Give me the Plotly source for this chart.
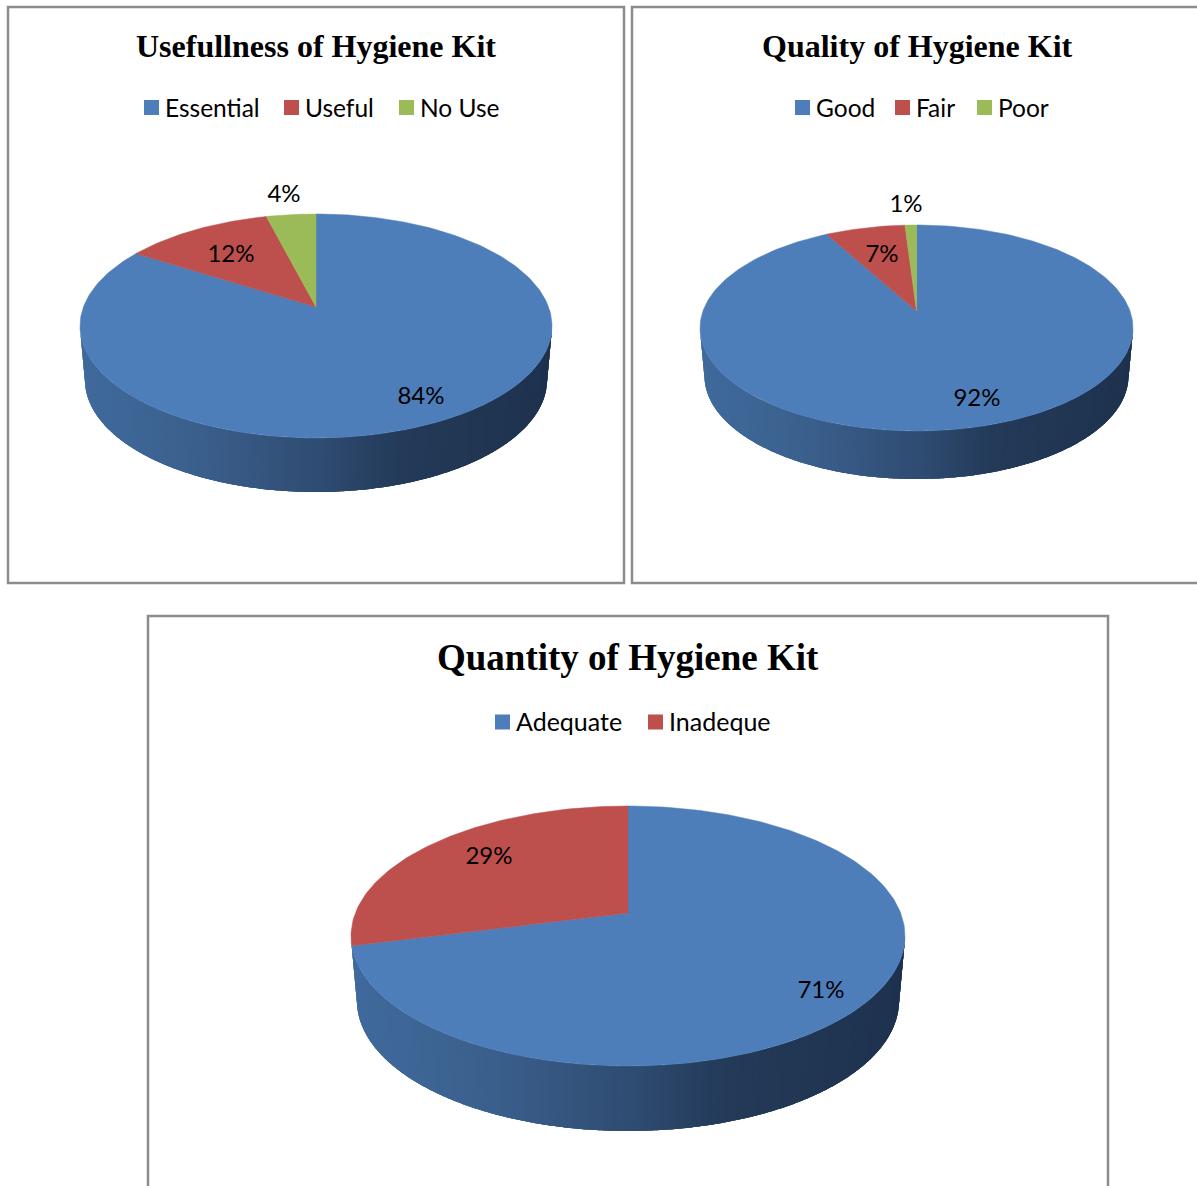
import math
import plotly.graph_objects as go

W, H = 1197, 1186

titles = ["Usefullness of Hygiene Kit", "Quality of Hygiene Kit", "Quantity of Hygiene Kit"]
categories_use = ["Essential", "Useful", "No Use"]
values_use = [84, 12, 4]
categories_qual = ["Good", "Fair", "Poor"]
values_qual = [92, 7, 1]
categories_qty = ["Adequate", "Inadeque"]
values_qty = [71, 29]

BLUE, RED, GREEN = "#4E7EBA", "#BD4F4C", "#9BBB59"
BORDER = "#8C8C8C"
WALL_STOPS = [(0, (64, 106, 156)), (.25, (58, 95, 140)), (.5, (47, 76, 114)),
              (.68, (35, 58, 88)), (1, (30, 50, 78))]

panels = [
    dict(title=titles[0], cats=categories_use, vals=values_use, box=(8, 7, 624, 583),
         cx=316, cy=326, rx=236, ry=112, apex=307, depth=54, rxb=231,
         tpos=(316, 46), tsize=32, key_y=107.5, key_x=[144, 284, 399], key_size=24.5,
         labels=[(421, 396), (231, 254), (284, 194)]),
    dict(title=titles[1], cats=categories_qual, vals=values_qual, box=(632, 7, 1240, 583),
         cx=916.5, cy=328, rx=216.5, ry=103, apex=311, depth=48, rxb=212,
         tpos=(917, 46), tsize=32, key_y=107.5, key_x=[795, 895, 977], key_size=24.5,
         labels=[(977, 398), (882, 254), (906, 204)]),
    dict(title=titles[2], cats=categories_qty, vals=values_qty, box=(148, 616, 1108, 1240),
         cx=628, cy=936, rx=277, ry=130, apex=913, depth=65, rxb=271,
         tpos=(628, 657), tsize=37, key_y=722, key_x=[495, 648], key_size=25,
         labels=[(821, 990), (489, 856)]),
]
COLORS = [BLUE, RED, GREEN]
LABEL_DY = 2
KEY_TEXT_DX = 13.5
KEY_TEXT_DY = 3


def wall_color(t):
    for (a, ca), (b, cb) in zip(WALL_STOPS, WALL_STOPS[1:]):
        if t <= b:
            f = (t - a) / (b - a)
            c = [round(ca[i] + f * (cb[i] - ca[i])) for i in range(3)]
            return f"rgb({c[0]},{c[1]},{c[2]})"
    return "rgb(30,50,78)"


def project(theta, w0):
    """Angle clockwise from 12 o'clock -> point on the tilted disc (perspective)."""
    u, v = math.sin(theta), math.cos(theta)
    k = 1 + w0 * v
    return u * math.sqrt(1 - w0 ** 2) / k, (v + w0) / k


fig = go.Figure()
layout_axes, annotations, shapes = {}, [], []

for n, p in enumerate(panels):
    L, T, R, B = p["box"]
    suffix = "" if n == 0 else str(n + 1)
    xname, yname = f"x{suffix}", f"y{suffix}"
    cx, cy, rx, ry = p["cx"], p["cy"], p["rx"], p["ry"]
    Rc, Bc = min(R, W), min(B, H)
    layout_axes[f"xaxis{suffix}"] = dict(domain=[L / W, Rc / W], range=[(L - cx) / rx, (Rc - cx) / rx],
                                         visible=False, fixedrange=True, anchor=yname)
    layout_axes[f"yaxis{suffix}"] = dict(domain=[1 - Bc / H, 1 - T / H], range=[(cy - Bc) / ry, (cy - T) / ry],
                                         visible=False, fixedrange=True, anchor=xname)
    shapes.append(dict(type="rect", xref="paper", yref="paper", x0=L / W, x1=R / W, y0=1 - B / H, y1=1 - T / H,
                       line=dict(color=BORDER, width=2.5), fillcolor="rgba(0,0,0,0)", layer="below"))
    annotations.append(dict(text=f"<b>{p['title']}</b>", xref="paper", yref="paper", x=p["tpos"][0] / W,
                            y=1 - p["tpos"][1] / H, showarrow=False, xanchor="center", yanchor="middle",
                            font=dict(family="Liberation Serif", size=p["tsize"], color="#000000")))

    # side wall: thin strips painted left to right, each overlapping the next so no seams show
    d = p["depth"] / ry
    sb = p["rxb"] / rx
    N = 160
    for i in range(N):
        a0 = math.pi * (1 - i / N)
        a1 = math.pi * (1 - min(i + 3, N) / N)
        arcs = [a0 + (a1 - a0) * j / 6 for j in range(7)]
        xs = [math.cos(a) for a in arcs] + [sb * math.cos(a) for a in reversed(arcs)]
        ys = [-math.sin(a) for a in arcs] + [-math.sin(a) - d for a in reversed(arcs)]
        t = (math.cos(a0) + 1) / 2
        fig.add_trace(go.Scatter(x=xs, y=ys, xaxis=xname, yaxis=yname, mode="none", fill="toself",
                                 fillcolor=wall_color(t), hoverinfo="skip", showlegend=False))

    # top face: one wedge per value, clockwise from 12 o'clock
    w0 = (cy - p["apex"]) / ry
    total = sum(p["vals"])
    acc = 0
    for j, v in enumerate(p["vals"]):
        th0, th1 = 2 * math.pi * acc / total, 2 * math.pi * (acc + v) / total
        acc += v
        m = max(4, int(v * 3))
        pts = [project(th0 + (th1 - th0) * q / m, w0) for q in range(m + 1)]
        xs = [0] + [a for a, _ in pts] + [0]
        ys = [w0] + [b for _, b in pts] + [w0]
        fig.add_trace(go.Scatter(x=xs, y=ys, xaxis=xname, yaxis=yname, mode="lines", fill="toself",
                                 fillcolor=COLORS[j], line=dict(color=COLORS[j], width=0.5),
                                 name=p["cats"][j], showlegend=False,
                                 hovertemplate=f"{p['cats'][j]}: {v}%<extra></extra>"))

    # percentage labels
    lx = [(a - cx) / rx for a, _ in p["labels"]]
    ly = [(cy - b - LABEL_DY) / ry for _, b in p["labels"]]
    fig.add_trace(go.Scatter(x=lx, y=ly, xaxis=xname, yaxis=yname, mode="text",
                             text=[f"{v}%" for v in p["vals"]], textposition="middle center",
                             textfont=dict(family="Lato", size=24, color="#000000"),
                             hoverinfo="skip", showlegend=False))

    # colour key: square and real text, placed on the panel's axes
    for j, c in enumerate(p["cats"]):
        kx = (p["key_x"][j] + 7.5 - cx) / rx
        ky = (cy - p["key_y"]) / ry
        fig.add_trace(go.Scatter(x=[kx], y=[ky], xaxis=xname, yaxis=yname, mode="markers", name=c,
                                 marker=dict(symbol="square", size=15, color=COLORS[j], line=dict(width=0)),
                                 hoverinfo="skip", showlegend=False))
        fig.add_trace(go.Scatter(x=[kx + KEY_TEXT_DX / rx], y=[ky - KEY_TEXT_DY / ry],
                                 xaxis=xname, yaxis=yname, mode="text", name=c, text=[c],
                                 textposition="middle right",
                                 textfont=dict(family="Lato", size=p["key_size"], color="#000000"),
                                 hoverinfo="skip", showlegend=False))

fig.update_layout(width=W, height=H, margin=dict(l=0, r=0, t=0, b=0), paper_bgcolor="#FFFFFF",
                  plot_bgcolor="rgba(0,0,0,0)", shapes=shapes, annotations=annotations, showlegend=False,
                  **layout_axes)
fig.write_html("out.html", config=dict(displayModeBar=False),
               post_script="document.body.style.margin='0';document.body.style.overflow='hidden';")
